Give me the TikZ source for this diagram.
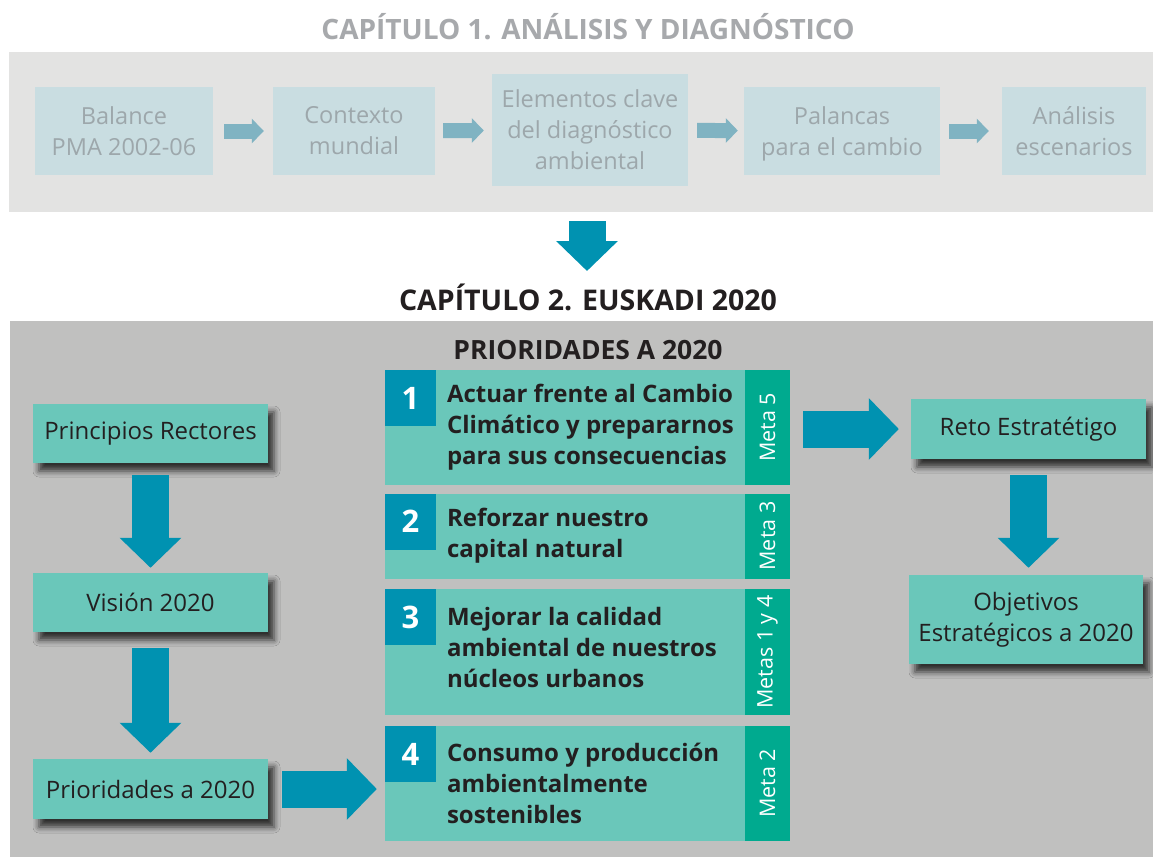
\documentclass[tikz,border=0pt]{standalone}
\usepackage{fontspec}
\setmainfont{Open Sans}
\usetikzlibrary{arrows.meta,shadows.blur}

\definecolor{panelA}{HTML}{E3E3E2}
\definecolor{panelB}{HTML}{C0C0BF}
\definecolor{paleBox}{HTML}{C9DDE1}
\definecolor{paleText}{HTML}{9DA7AB}
\definecolor{paleArrow}{HTML}{80B3C2}
\definecolor{tealBox}{HTML}{6AC7BA}
\definecolor{deepBlue}{HTML}{0092B1}
\definecolor{metaGreen}{HTML}{00AA8F}
\definecolor{inkDark}{HTML}{231F20}
\definecolor{titleGrey}{HTML}{A7A9AC}

\tikzset{
  palebox/.style={fill=paleBox, text=paleText, align=center, minimum height=88pt,
    font=\fontsize{23.5}{31}\selectfont},
  palearrow/.style={draw=paleArrow, line width=15pt, -{Triangle[length=12pt,width=24pt]}},
  bigarrow/.style={draw=deepBlue, line width=37pt, -{Triangle[length=30pt,width=60pt]}},
  stagebox/.style={fill=tealBox, text=inkDark, align=center, minimum width=235pt,
    font=\fontsize{24}{31}\selectfont,
    blur shadow={shadow xshift=6pt, shadow yshift=-8pt, shadow blur radius=6pt, shadow opacity=75}},
  prio/.style={fill=tealBox, minimum width=405pt, inner sep=0pt},
  numbox/.style={fill=deepBlue, text=white, minimum width=51pt, minimum height=56pt,
    inner sep=0pt, font=\fontsize{31}{31}\selectfont\bfseries},
  metabox/.style={fill=metaGreen, text=white, minimum width=45pt, inner sep=0pt,
    font=\fontsize{21.5}{21.5}\selectfont},
  prtext/.style={text=inkDark, align=left, inner sep=0pt,
    font=\fontsize{24}{31}\selectfont\bfseries},
}

\begin{document}
\begin{tikzpicture}[x=1pt,y=-1pt]
\useasboundingbox (0,0) rectangle (1153,857);
\fill[white] (0,0) rectangle (1153,857);

% capitulo 1
\node[text=titleGrey, font=\fontsize{28}{28}\selectfont\bfseries] (title1) at (588,27) {CAPÍTULO 1. ANÁLISIS Y DIAGNÓSTICO};
\node[fill=panelA, minimum width=1144pt, minimum height=160pt, inner sep=0pt] (cap1) at (581,132) {};

\node[palebox, minimum width=178pt] (balance) at (124,131) {Balance\\PMA 2002-06};
\node[palebox, minimum width=162pt] (contexto) at (354,131) {Contexto\\mundial};
\node[palebox, minimum width=196pt, minimum height=112pt] (elementos) at (590,130) {Elementos clave\\del diagnóstico\\ambiental};
\node[palebox, minimum width=196pt] (palancas) at (842,131) {Palancas\\\raisebox{0pt}[\height][0pt]{para el cambio}};
\node[palebox, minimum width=144pt] (escenarios) at (1074,131) {Análisis\\escenarios};

\draw[palearrow, shorten <=11pt, shorten >=9pt] (balance) -- (contexto);
\draw[palearrow, shorten <=8pt, shorten >=8pt] (contexto) -- (elementos);
\draw[palearrow, shorten <=9pt, shorten >=6pt] (elementos) -- (palancas);
\draw[palearrow, shorten <=9pt, shorten >=13pt] (palancas) -- (escenarios);

\coordinate (tip2) at (587,271);
\draw[bigarrow, shorten <=9pt] (cap1.south -| tip2) -- (tip2);

% capitulo 2
\node[text=inkDark, font=\fontsize{28.5}{28.5}\selectfont\bfseries] (title2) at (588,297) {CAPÍTULO 2. EUSKADI 2020};
\fill[panelB] (10,321) rectangle (1153,857);
\node[text=inkDark, font=\fontsize{26.5}{26.5}\selectfont\bfseries] (prhead) at (588,350) {PRIORIDADES A 2020};

\node[stagebox, minimum height=59pt] (rectores) at (150.5,433.5) {Principios Rectores};
\node[stagebox, minimum height=59pt] (vision) at (150.5,602.5) {Visión 2020};
\node[stagebox, minimum height=60pt] (prior) at (150.5,789) {Prioridades a 2020};
\node[stagebox, minimum height=60pt] (reto) at (1028.5,429) {Reto Estratétigo};
\node[stagebox, minimum height=89pt, minimum width=234pt] (objetivos) at (1026,619.5) {Objetivos\\Estratégicos a 2020};

% prioridades
\node[prio, minimum height=115pt] (p1) at (587.5,427.5) {};
\node[prio, minimum height=85pt] (p2) at (587.5,536) {};
\node[prio, minimum height=126pt] (p3) at (587.5,652) {};
\node[prio, minimum height=115pt] (p4) at (587.5,783.5) {};

\node[numbox, anchor=north west] (n1) at (p1.north west) {1};
\node[numbox, anchor=north west] (n2) at (p2.north west) {2};
\node[numbox, anchor=north west] (n3) at (p3.north west) {3};
\node[numbox, anchor=north west] (n4) at (p4.north west) {4};

\node[metabox, minimum height=115pt, anchor=north east] (m1) at (p1.north east) {\rotatebox{90}{Meta 5}};
\node[metabox, minimum height=85pt, anchor=north east] (m2) at (p2.north east) {\rotatebox{90}{Meta 3}};
\node[metabox, minimum height=126pt, anchor=north east] (m3) at (p3.north east) {\rotatebox{90}{Metas 1 y 4}};
\node[metabox, minimum height=115pt, anchor=north east] (m4) at (p4.north east) {\rotatebox{90}{Meta 2}};

\node[prtext, anchor=west] (t1) at ([xshift=62pt]p1.west) {Actuar frente al Cambio\\Climático y prepararnos\\para sus consecuencias};
\node[prtext, anchor=west] (t2) at ([xshift=62pt]p2.west) {Reforzar nuestro\\capital natural};
\node[prtext, anchor=west] (t3) at ([xshift=62pt,yshift=5pt]p3.west) {Mejorar la calidad\\ambiental de nuestros\\núcleos urbanos};
\node[prtext, anchor=west] (t4) at ([xshift=62pt]p4.west) {Consumo y producción\\ambientalmente\\sostenibles};

% flechas
\draw[bigarrow, shorten <=12pt, shorten >=5pt] (rectores) -- (vision);
\draw[bigarrow, shorten <=16pt, shorten >=6pt] (vision) -- (prior);
\draw[bigarrow, shorten <=14pt, shorten >=8pt] (prior.east) -- (prior.east -| p4.west);
\draw[bigarrow, shorten <=13pt, shorten >=12pt] (p1.east |- reto.west) -- (reto.west);
\draw[bigarrow, shorten <=16pt, shorten >=7pt] (reto.south) -- (reto.south |- objetivos.north);
\end{tikzpicture}
\end{document}
